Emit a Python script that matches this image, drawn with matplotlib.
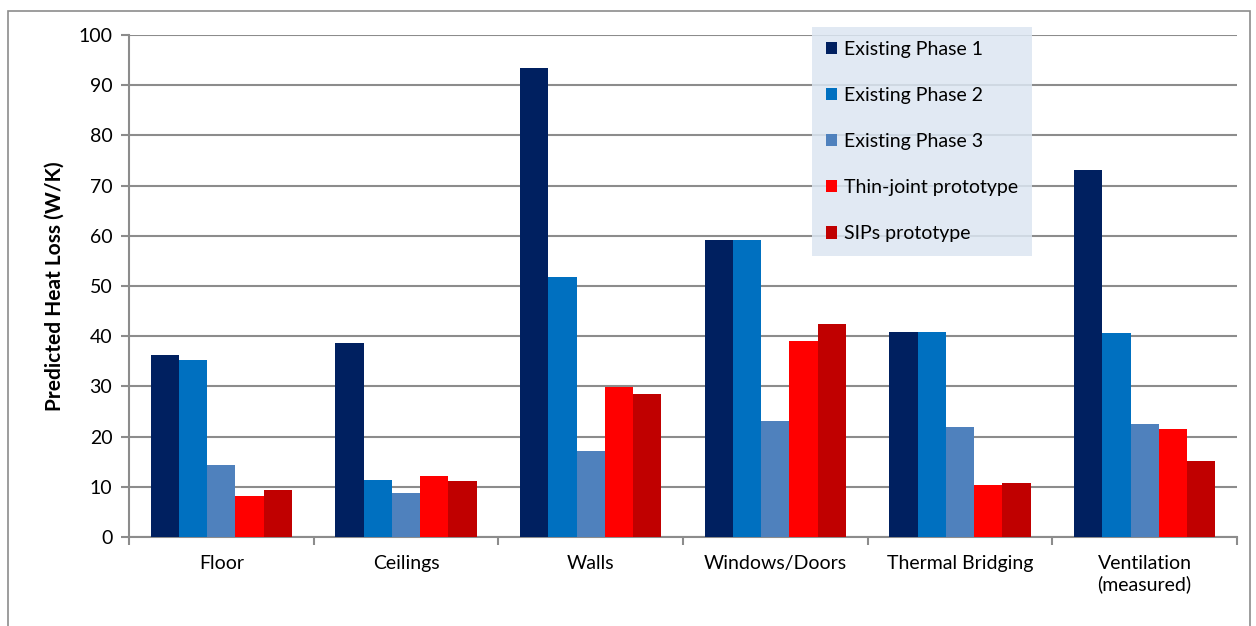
import numpy as np
import matplotlib.pyplot as plt
from matplotlib.patches import Rectangle

plt.rcParams['font.family'] = ['Lato', 'DejaVu Sans']

categories = ['Floor', 'Ceilings', 'Walls', 'Windows/Doors', 'Thermal Bridging', 'Ventilation\n(measured)']
series_names = ['Existing Phase 1', 'Existing Phase 2', 'Existing Phase 3', 'Thin-joint prototype', 'SIPs prototype']
phase1 = [36.3, 38.7, 93.4, 59.2, 40.8, 73.1]
phase2 = [35.3, 11.4, 51.8, 59.2, 40.8, 40.6]
phase3 = [14.3, 8.7, 17.1, 23.1, 21.9, 22.5]
thin_joint = [8.2, 12.2, 29.9, 39.0, 10.3, 21.6]
sips = [9.3, 11.2, 28.5, 42.4, 10.8, 15.1]
colors = ['#002060', '#0070C0', '#4F81BD', '#FF0000', '#C00000']

data = [phase1, phase2, phase3, thin_joint, sips]

fig = plt.figure(figsize=(12.56, 6.26), dpi=100)
ax = fig.add_axes([129/1256, 1 - 537/626, (1237-129)/1256, (537-35)/626])

# outer chart border
fig.patches.append(Rectangle((8/1256, -0.1), (1250-8)/1256, 1.1 - 11/626, transform=fig.transFigure,
                             fill=False, edgecolor='#8c8c8c', linewidth=1.2))

x = np.arange(len(categories))
n = len(data)
group = 0.765
w = group / n
for i, (vals, c, name) in enumerate(zip(data, colors, series_names)):
    ax.bar(x - group / 2 + w * (i + 0.5), vals, width=w, color=c, label=name, zorder=3)

ax.set_xlim(-0.5, len(categories) - 0.5)
ax.set_ylim(0, 100)
ax.set_yticks(range(0, 101, 10))
ax.yaxis.grid(True, color='#8c8c8c', linewidth=1.5, zorder=0)
ax.set_axisbelow(True)

ax.set_xticks(x)
ax.set_xticklabels(categories, fontsize=14)
ax.set_xticks(np.arange(-0.5, len(categories)), minor=True)
ax.tick_params(axis='x', which='major', length=0, pad=13)
ax.tick_params(axis='x', which='minor', length=6, color='#8c8c8c', width=1.5)
ax.tick_params(axis='y', length=6, color='#8c8c8c', width=1.5, labelsize=14, pad=6)

for s in ['top', 'right']:
    ax.spines[s].set_visible(False)
for s in ['left', 'bottom']:
    ax.spines[s].set_color('#8c8c8c')
    ax.spines[s].set_linewidth(1.5)

ax.set_ylabel('Predicted Heat Loss (W/K)', fontsize=15, fontweight='bold', labelpad=10)

leg = ax.legend(loc='upper left', bbox_to_anchor=((812-129)/1108, (537-27)/502), fontsize=14,
                handlelength=0.6, handleheight=0.6, handletextpad=0.35, labelspacing=1.5,
                borderpad=0.7, borderaxespad=0, fancybox=False, frameon=True)
leg.get_frame().set_facecolor('#dce6f2')
leg.get_frame().set_alpha(0.85)
leg.get_frame().set_edgecolor('none')
leg._legend_box.align = 'left'

fig.savefig('out.png', dpi=100)
